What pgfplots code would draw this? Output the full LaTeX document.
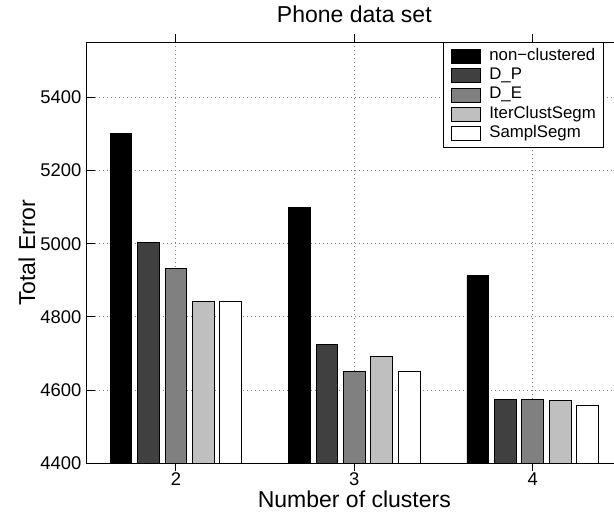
\documentclass[border=0pt]{standalone}
\usepackage{fontspec}
\setmainfont{Liberation Sans}
\usepackage{pgfplots}
\pgfplotsset{compat=1.18}
\pgfplotsset{
  swatch/.style={legend image code/.code={%
      \draw[##1, line width=0.7pt] (0pt,-5.25pt) rectangle (21.75pt,5.25pt);
      \path (27.75pt,0pt);}},
}
\begin{document}
\begin{tikzpicture}
\begin{axis}[
  at={(0,0)}, anchor=south west,
  scale only axis, width=401.5pt, height=315.75pt,
  xmin=1.5, xmax=4.5, ymin=4400, ymax=5550,
  xtick={2,3,4}, ytick={4400,4600,...,5400},
  axis line style={black, line width=0.75pt},
  tick align=inside, major tick length=6pt,
  tick style={black, line width=0.6pt},
  grid=major,
  grid style={gray, line width=0.6pt, dash pattern=on 0.75pt off 2.25pt},
  ybar=4.3pt, bar width=16.3pt,
  /pgf/number format/assume math mode=true,
  /pgf/number format/set thousands separator={},
  ticklabel style={font=\fontsize{13.8}{16}\selectfont},
  yticklabel style={anchor=east, inner sep=0pt, xshift=-3.75pt},
  xticklabel style={anchor=base, inner sep=0pt, yshift=-10.65pt},
  title={Phone data set},
  title style={at={(axis description cs:0.5,1.0276)}, anchor=base, inner sep=0pt,
    font=\fontsize{17.25}{20}\selectfont},
  xlabel={Number of clusters},
  xlabel style={at={(axis description cs:0.5,-0.1045)}, anchor=base, inner sep=0pt,
    font=\fontsize{17.25}{20}\selectfont},
  ylabel={Total Error},
  every axis y label/.style={at={(axis description cs:-0.0965,0.5)}, rotate=90,
    anchor=base, inner sep=0pt, font=\fontsize{17.25}{20}\selectfont},
  legend style={at={(axis description cs:0.6656,1)}, anchor=north west,
    draw=black, line width=0.6pt, fill=white,
    font=\fontsize{12.6}{14}\selectfont,
    inner xsep=6pt, inner ysep=3pt, row sep=0pt,
    cells={anchor=west},
    nodes={inner sep=0pt, text height=10pt, text depth=4.5pt}},
]
% one series per method, grouped by number of clusters
\addplot[fill=black, draw=black, line width=0.7pt, swatch]
  coordinates {(2,5300) (3,5098) (4,4912)};
\addplot[fill=black!75, draw=black, line width=0.7pt, swatch]
  coordinates {(2,5002) (3,4725) (4,4575)};
\addplot[fill=black!50, draw=black, line width=0.7pt, swatch]
  coordinates {(2,4932) (3,4652) (4,4575)};
\addplot[fill=black!25, draw=black, line width=0.7pt, swatch]
  coordinates {(2,4841) (3,4691) (4,4572)};
\addplot[fill=white, draw=black, line width=0.7pt, swatch]
  coordinates {(2,4841) (3,4652) (4,4559)};
\legend{non−clustered, D\_P, D\_E, IterClustSegm, SamplSegm}
\end{axis}
% the figure is trimmed just short of the right edge of the axis box
\pgfresetboundingbox
\path[use as bounding box] (-65pt,-39.5pt) rectangle (395.5pt,347.5pt);
\end{tikzpicture}
\end{document}
